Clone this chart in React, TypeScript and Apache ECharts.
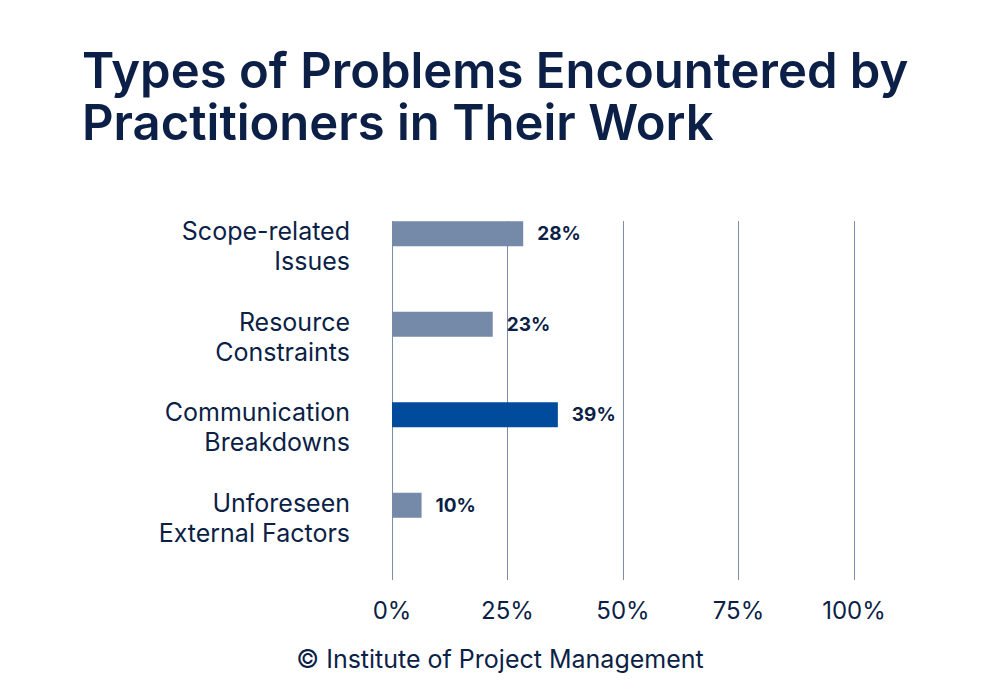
import React, { useEffect, useRef } from "react";
import * as echarts from "echarts";

const categories = [
  "Scope-related\nIssues",
  "Resource\nConstraints",
  "Communication\nBreakdowns",
  "Unforeseen\nExternal Factors",
];
const barValues = [28.4, 21.8, 35.9, 6.4];
const labelValues = [28, 23, 39, 10];
const highlightIndex = 2;
const xTicks = [0, 25, 50, 75, 100];
const titleLines = ["Types of Problems Encountered by", "Practitioners in Their Work"];

const NAVY = "#0c1f47";
const GREY_BAR = "#7589a8";
const BLUE_BAR = "#004b9b";
const GRID = "#7d8daa";
const FONT = "Inter, 'Noto Sans', sans-serif";

export default function App() {
  const ref = useRef<HTMLDivElement>(null);
  useEffect(() => {
    document.body.style.margin = "0";
    const chart = echarts.init(ref.current!, null, { renderer: "svg" });
    const titleStyle = {
      fontFamily: FONT,
      fontSize: 49,
      fontWeight: 600,
      lineHeight: 50,
      color: NAVY,
    };
    chart.setOption({
      animation: false,
      backgroundColor: "#ffffff",
      title: [
        { text: titleLines[0], left: 82, top: 45, padding: 0, textStyle: titleStyle },
        { text: titleLines[1], left: 82, top: 97, padding: 0, textStyle: titleStyle },
        {
          text: "© Institute of Project Management",
          left: "center",
          top: 641,
          textStyle: {
            fontFamily: FONT,
            fontSize: 25,
            fontWeight: 400,
            color: NAVY,
          },
        },
      ],
      grid: [
        { left: 392, right: 146, top: 201, height: 362, containLabel: false },
        { left: 392, right: 146, top: 221, height: 359, containLabel: false },
      ],
      xAxis: [
        { type: "value", gridIndex: 0, min: 0, max: 100, show: false },
        {
          type: "value",
          gridIndex: 1,
          min: 0,
          max: 100,
          interval: 25,
          axisLine: { show: false },
          axisTick: { show: false },
          splitLine: { show: true, lineStyle: { color: GRID, width: 1 } },
          axisLabel: {
            margin: 18,
            fontFamily: FONT,
            fontSize: 24,
            color: NAVY,
            formatter: (v: number) => (xTicks.includes(v) ? `${v}%` : ""),
          },
        },
      ],
      yAxis: [
        {
          type: "category",
          gridIndex: 0,
          data: categories,
          inverse: true,
          axisLine: { show: false },
          axisTick: { show: false },
          splitLine: { show: false },
          axisLabel: {
            interval: 0,
            margin: 42,
            fontFamily: FONT,
            fontSize: 25,
            lineHeight: 30,
            color: NAVY,
            align: "right",
          },
        },
        { type: "value", gridIndex: 1, min: 0, max: 1, show: false },
      ],
      series: [
        {
          type: "bar",
          xAxisIndex: 0,
          yAxisIndex: 0,
          barWidth: 20,
          barGap: 0,
          silent: true,
          data: categories.map(() => 0),
          itemStyle: { color: "transparent" },
        },
        {
          type: "bar",
          xAxisIndex: 0,
          yAxisIndex: 0,
          barWidth: 25,
          barGap: 0,
          data: barValues.map((v, i) => ({
            value: v,
            itemStyle: { color: i === highlightIndex ? BLUE_BAR : GREY_BAR },
          })),
          label: {
            show: true,
            position: "right",
            distance: 14,
            fontFamily: FONT,
            fontSize: 19,
            fontWeight: 700,
            color: NAVY,
            formatter: (p: any) => `${labelValues[p.dataIndex]}%`,
          },
        },
        {
          type: "bar",
          xAxisIndex: 0,
          yAxisIndex: 0,
          barWidth: 45,
          barGap: 0,
          silent: true,
          data: categories.map(() => 0),
          itemStyle: { color: "transparent" },
        },
      ],
    });
    return () => chart.dispose();
  }, []);
  return <div ref={ref} style={{ width: 1000, height: 700 }} />;
}
